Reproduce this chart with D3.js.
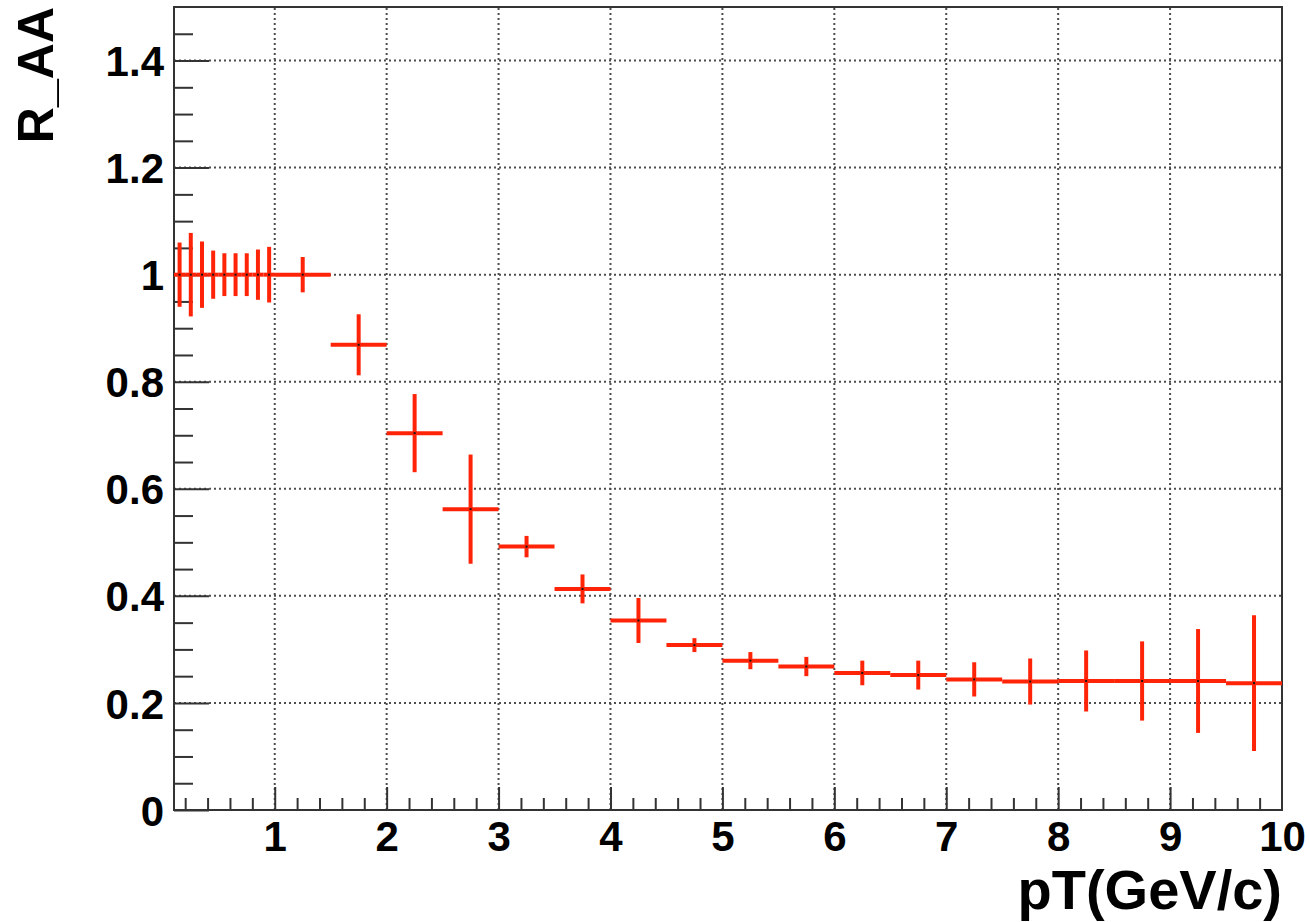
<!DOCTYPE html>
<html>
<head>
<meta charset="utf-8">
<script src="https://cdn.jsdelivr.net/npm/d3@7"></script>
<style>
  body { margin: 0; background: #ffffff; }
  svg text { font-family: "Liberation Sans", Arial, Helvetica, sans-serif; font-weight: bold; fill: #000; }
</style>
</head>
<body>
<svg id="chart" width="1310" height="922"></svg>
<script>
// Nuclear modification factor vs transverse momentum
const ptCenters    = [0.15, 0.25, 0.35, 0.45, 0.55, 0.65, 0.75, 0.85, 0.95,
                      1.25, 1.75, 2.25, 2.75, 3.25, 3.75, 4.25, 4.75, 5.25, 5.75,
                      6.25, 6.75, 7.25, 7.75, 8.25, 8.75, 9.25, 9.75];
const ptHalfWidths = [0.05, 0.05, 0.05, 0.05, 0.05, 0.05, 0.05, 0.05, 0.05,
                      0.25, 0.25, 0.25, 0.25, 0.25, 0.25, 0.25, 0.25, 0.25, 0.25,
                      0.25, 0.25, 0.25, 0.25, 0.25, 0.25, 0.25, 0.25];
const raaValues    = [1.0, 1.0, 1.0, 1.0, 1.0, 1.0, 1.0, 1.0, 1.0,
                      1.0, 0.869, 0.704, 0.562, 0.492, 0.413, 0.354, 0.308, 0.279, 0.268,
                      0.256, 0.252, 0.244, 0.240, 0.241, 0.241, 0.241, 0.237];
const raaErrors    = [0.060, 0.078, 0.062, 0.045, 0.040, 0.040, 0.040, 0.047, 0.052,
                      0.033, 0.057, 0.073, 0.102, 0.020, 0.027, 0.042, 0.013, 0.016, 0.018,
                      0.023, 0.027, 0.032, 0.043, 0.057, 0.074, 0.097, 0.127];

const xTickLabels = ["1", "2", "3", "4", "5", "6", "7", "8", "9", "10"];
const yTickLabels = ["0", "0.2", "0.4", "0.6", "0.8", "1", "1.2", "1.4"];
const xTitle = "pT(GeV/c)";
const yTitle = "R_AA";

const frame = { left: 174, right: 1282, top: 7, bottom: 810 };
const xDomain = [0.1, 10];
const yDomain = [0, 1.5];

const svg = d3.select("#chart");
const x = d3.scaleLinear().domain(xDomain).range([frame.left, frame.right]);
const y = d3.scaleLinear().domain(yDomain).range([frame.bottom, frame.top]);

const xMajor = xTickLabels.map(Number);
const yMajor = yTickLabels.map(Number);
const xMinor = d3.range(0.2, 10.001, 0.2).map(v => +v.toFixed(2))
  .filter(v => v > xDomain[0] && v < xDomain[1] && Math.abs(v - Math.round(v)) > 1e-6);
const yMinor = d3.range(0.05, 1.5, 0.05).map(v => +v.toFixed(2))
  .filter(v => Math.abs(v / 0.2 - Math.round(v / 0.2)) > 1e-6);

// dotted grid
const grid = svg.append("g").attr("class", "grid")
  .attr("stroke", "#4d4d4d").attr("stroke-width", 2).attr("stroke-dasharray", "2,3");
grid.selectAll("line.gx").data(xMajor.filter(v => v < xDomain[1])).join("line")
  .attr("class", "gx")
  .attr("x1", d => x(d)).attr("x2", d => x(d))
  .attr("y1", frame.bottom).attr("y2", frame.top);
grid.selectAll("line.gy").data(yMajor.filter(v => v > 0)).join("line")
  .attr("class", "gy")
  .attr("x1", frame.left).attr("x2", frame.right)
  .attr("y1", d => y(d)).attr("y2", d => y(d));

// axes: ticks point into the frame
function styleAxis(g) {
  g.select(".domain").remove();
  g.selectAll(".tick line").attr("stroke", "#333").attr("stroke-width", 2);
}
const xAxisMinor = d3.axisBottom(x).tickValues(xMinor).tickSize(-12).tickFormat("");
const xAxisMajor = d3.axisBottom(x).tickValues(xMajor).tickSize(-23).tickPadding(10)
  .tickFormat((d, i) => xTickLabels[i]);
svg.append("g").attr("transform", `translate(0,${frame.bottom})`).call(xAxisMinor).call(styleAxis);
const gx = svg.append("g").attr("transform", `translate(0,${frame.bottom})`).call(xAxisMajor).call(styleAxis);
gx.selectAll(".tick text").attr("font-size", 42).attr("dy", "0.78em").attr("y", 8)
  .attr("font-family", "Liberation Sans, Arial, sans-serif").attr("font-weight", "bold").attr("fill", "#000");
gx.selectAll(".tick").filter(d => d === xDomain[1]).select("line").remove();

const yAxisMinor = d3.axisLeft(y).tickValues(yMinor).tickSize(-19).tickFormat("");
const yAxisMajor = d3.axisLeft(y).tickValues(yMajor).tickSize(-35).tickPadding(10)
  .tickFormat((d, i) => yTickLabels[i]);
svg.append("g").attr("transform", `translate(${frame.left},0)`).call(yAxisMinor).call(styleAxis);
const gy = svg.append("g").attr("transform", `translate(${frame.left},0)`).call(yAxisMajor).call(styleAxis);
gy.selectAll(".tick text").attr("font-size", 42).attr("x", -10).attr("dy", "0.36em")
  .attr("font-family", "Liberation Sans, Arial, sans-serif").attr("font-weight", "bold").attr("fill", "#000");

// frame
svg.append("rect")
  .attr("x", frame.left).attr("y", frame.top)
  .attr("width", frame.right - frame.left).attr("height", frame.bottom - frame.top)
  .attr("fill", "none").attr("stroke", "#333").attr("stroke-width", 2);

// error crosses
const pts = ptCenters.map((c, i) => ({ c, w: ptHalfWidths[i], v: raaValues[i], e: raaErrors[i] }));
const marks = svg.append("g").attr("stroke", "#ff2408").attr("stroke-width", 4);
marks.selectAll("line.h").data(pts).join("line").attr("class", "h")
  .attr("x1", d => x(Math.max(d.c - d.w, xDomain[0]))).attr("x2", d => x(d.c + d.w))
  .attr("y1", d => y(d.v)).attr("y2", d => y(d.v));
marks.selectAll("line.v").data(pts).join("line").attr("class", "v")
  .attr("x1", d => x(d.c)).attr("x2", d => x(d.c))
  .attr("y1", d => y(d.v - d.e)).attr("y2", d => y(d.v + d.e));
svg.append("g").selectAll("rect").data(pts).join("rect")
  .attr("x", d => x(d.c) - 1).attr("y", d => y(d.v) - 1)
  .attr("width", 2).attr("height", 2).attr("fill", "#111");

// axis titles
svg.append("text").text(xTitle)
  .attr("x", frame.right).attr("y", 909).attr("text-anchor", "end").attr("font-size", 56);
svg.append("text").text(yTitle)
  .attr("transform", `translate(53,${frame.top}) rotate(-90)`)
  .attr("text-anchor", "end").attr("font-size", 50);
</script>
</body>
</html>
